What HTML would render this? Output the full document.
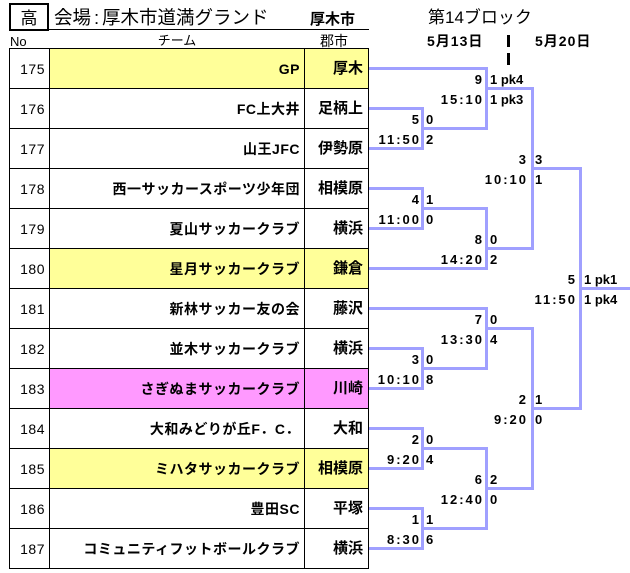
<!DOCTYPE html>
<html><head><meta charset="utf-8">
<style>
*{box-sizing:border-box;}
body{margin:0;width:630px;height:573px;position:relative;overflow:hidden;background:#fff;font-family:"Liberation Sans","Noto Sans CJK JP",sans-serif;color:#000;}
.a{position:absolute;white-space:nowrap;}
.bg{position:absolute;}
.gh{position:absolute;left:9px;width:360px;height:1px;background:#000;}
.gv{position:absolute;top:48px;width:1px;height:521px;background:#000;}
.h{position:absolute;background:#a0a0ff;height:3px;}
.v{position:absolute;background:#a0a0ff;width:3px;}
.no{position:absolute;right:585px;font-size:14px;line-height:40px;letter-spacing:0.5px;white-space:nowrap;}
.tm{position:absolute;right:330px;font-size:14px;font-weight:bold;line-height:40px;letter-spacing:0.5px;white-space:nowrap;}
.ct{position:absolute;right:267px;font-size:15px;font-weight:bold;line-height:40px;white-space:nowrap;}
.L{position:absolute;font-weight:bold;font-size:13px;line-height:16px;white-space:nowrap;text-align:right;}
.R{position:absolute;font-weight:bold;font-size:13px;line-height:16px;white-space:nowrap;}
.t{letter-spacing:2px;}
</style></head><body>

<!-- header -->
<div class="a" style="left:9px;top:3px;width:40px;height:28px;border:2px solid #000;"></div>
<div class="a" style="left:9px;top:9px;width:40px;text-align:center;font-size:17px;line-height:20px;">高</div>
<div class="a" style="left:49px;top:29px;width:320px;height:1px;background:#000;"></div>
<div class="a" style="left:54px;top:6px;font-size:18.5px;line-height:24px;">会場<span style="display:inline-block;width:11px;text-align:center;">:</span>厚木市道満グランド</div>
<div class="a" style="left:310px;top:10px;font-size:15px;font-weight:bold;line-height:20px;">厚木市</div>
<div class="a" style="left:10px;top:34px;font-size:13px;line-height:16px;">No</div>
<div class="a" style="left:127px;top:33px;width:100px;text-align:center;font-size:13px;line-height:16px;">チーム</div>
<div class="a" style="left:302px;top:33px;width:64px;text-align:center;font-size:14px;line-height:16px;">郡市</div>
<div class="a" style="left:428px;top:8px;font-size:17px;line-height:20px;">第14ブロック</div>
<div class="a" style="left:427px;top:33px;font-size:14px;font-weight:bold;letter-spacing:1px;line-height:16px;">5月13日</div>
<div class="a" style="left:535px;top:33px;font-size:14px;font-weight:bold;letter-spacing:1px;line-height:16px;">5月20日</div>
<div class="a" style="left:507px;top:35px;width:3px;height:12px;background:#000;"></div>
<div class="a" style="left:507px;top:53px;width:3px;height:12px;background:#000;"></div>

<!-- row backgrounds -->
<div class="bg" style="left:50px;top:49px;width:318px;height:39px;background:#ffff99;"></div>
<div class="bg" style="left:50px;top:249px;width:318px;height:39px;background:#ffff99;"></div>
<div class="bg" style="left:50px;top:369px;width:318px;height:39px;background:#ff99ff;"></div>
<div class="bg" style="left:50px;top:449px;width:318px;height:39px;background:#ffff99;"></div>

<!-- grid -->
<div class="gh" style="top:48px"></div>
<div class="gh" style="top:88px"></div>
<div class="gh" style="top:128px"></div>
<div class="gh" style="top:168px"></div>
<div class="gh" style="top:208px"></div>
<div class="gh" style="top:248px"></div>
<div class="gh" style="top:288px"></div>
<div class="gh" style="top:328px"></div>
<div class="gh" style="top:368px"></div>
<div class="gh" style="top:408px"></div>
<div class="gh" style="top:448px"></div>
<div class="gh" style="top:488px"></div>
<div class="gh" style="top:528px"></div>
<div class="gh" style="top:568px"></div>
<div class="gv" style="left:9px"></div>
<div class="gv" style="left:49px"></div>
<div class="gv" style="left:304px"></div>
<div class="gv" style="left:368px"></div>

<!-- rows -->
<div class="no" style="top:49px">175</div><div class="tm" style="top:49px">GP</div><div class="ct" style="top:49px">厚木</div>
<div class="no" style="top:89px">176</div><div class="tm" style="top:89px">FC上大井</div><div class="ct" style="top:89px">足柄上</div>
<div class="no" style="top:129px">177</div><div class="tm" style="top:129px">山王JFC</div><div class="ct" style="top:129px">伊勢原</div>
<div class="no" style="top:169px">178</div><div class="tm" style="top:169px">西一サッカースポーツ少年団</div><div class="ct" style="top:169px">相模原</div>
<div class="no" style="top:209px">179</div><div class="tm" style="top:209px">夏山サッカークラブ</div><div class="ct" style="top:209px">横浜</div>
<div class="no" style="top:249px">180</div><div class="tm" style="top:249px">星月サッカークラブ</div><div class="ct" style="top:249px">鎌倉</div>
<div class="no" style="top:289px">181</div><div class="tm" style="top:289px">新林サッカー友の会</div><div class="ct" style="top:289px">藤沢</div>
<div class="no" style="top:329px">182</div><div class="tm" style="top:329px">並木サッカークラブ</div><div class="ct" style="top:329px">横浜</div>
<div class="no" style="top:369px">183</div><div class="tm" style="top:369px">さぎぬまサッカークラブ</div><div class="ct" style="top:369px">川崎</div>
<div class="no" style="top:409px">184</div><div class="tm" style="top:409px">大和みどりが丘F．C．</div><div class="ct" style="top:409px">大和</div>
<div class="no" style="top:449px">185</div><div class="tm" style="top:449px">ミハタサッカークラブ</div><div class="ct" style="top:449px">相模原</div>
<div class="no" style="top:489px">186</div><div class="tm" style="top:489px">豊田SC</div><div class="ct" style="top:489px">平塚</div>
<div class="no" style="top:529px">187</div><div class="tm" style="top:529px">コミュニティフットボールクラブ</div><div class="ct" style="top:529px">横浜</div>

<!-- bracket horizontals -->
<div class="h" style="left:369px;width:55px;top:107px"></div>
<div class="h" style="left:369px;width:55px;top:147px"></div>
<div class="h" style="left:369px;width:55px;top:187px"></div>
<div class="h" style="left:369px;width:55px;top:227px"></div>
<div class="h" style="left:369px;width:55px;top:347px"></div>
<div class="h" style="left:369px;width:55px;top:387px"></div>
<div class="h" style="left:369px;width:55px;top:427px"></div>
<div class="h" style="left:369px;width:55px;top:467px"></div>
<div class="h" style="left:369px;width:55px;top:507px"></div>
<div class="h" style="left:369px;width:55px;top:547px"></div>
<div class="h" style="left:369px;width:119px;top:67px"></div>
<div class="h" style="left:369px;width:119px;top:267px"></div>
<div class="h" style="left:369px;width:119px;top:307px"></div>
<div class="h" style="left:424px;width:64px;top:127px"></div>
<div class="h" style="left:424px;width:64px;top:207px"></div>
<div class="h" style="left:424px;width:64px;top:367px"></div>
<div class="h" style="left:424px;width:64px;top:447px"></div>
<div class="h" style="left:424px;width:64px;top:527px"></div>
<div class="h" style="left:488px;width:46px;top:87px"></div>
<div class="h" style="left:488px;width:46px;top:247px"></div>
<div class="h" style="left:488px;width:46px;top:327px"></div>
<div class="h" style="left:488px;width:46px;top:487px"></div>
<div class="h" style="left:534px;width:48px;top:167px"></div>
<div class="h" style="left:534px;width:48px;top:407px"></div>
<div class="h" style="left:582px;width:48px;top:287px"></div>

<!-- bracket verticals -->
<div class="v" style="left:421px;top:107px;height:43px"></div>
<div class="v" style="left:421px;top:187px;height:43px"></div>
<div class="v" style="left:421px;top:347px;height:43px"></div>
<div class="v" style="left:421px;top:427px;height:43px"></div>
<div class="v" style="left:421px;top:507px;height:43px"></div>
<div class="v" style="left:485px;top:67px;height:63px"></div>
<div class="v" style="left:485px;top:207px;height:63px"></div>
<div class="v" style="left:485px;top:307px;height:63px"></div>
<div class="v" style="left:485px;top:447px;height:83px"></div>
<div class="v" style="left:531px;top:87px;height:163px"></div>
<div class="v" style="left:531px;top:327px;height:163px"></div>
<div class="v" style="left:579px;top:167px;height:243px"></div>

<!-- labels V=421 -->
<div class="L" style="right:211px;top:112px">5</div><div class="R" style="left:426px;top:112px">0</div>
<div class="L t" style="right:209px;top:132px">11:50</div><div class="R" style="left:426px;top:132px">2</div>
<div class="L" style="right:211px;top:192px">4</div><div class="R" style="left:426px;top:192px">1</div>
<div class="L t" style="right:209px;top:212px">11:00</div><div class="R" style="left:426px;top:212px">0</div>
<div class="L" style="right:211px;top:352px">3</div><div class="R" style="left:426px;top:352px">0</div>
<div class="L t" style="right:209px;top:372px">10:10</div><div class="R" style="left:426px;top:372px">8</div>
<div class="L" style="right:211px;top:432px">2</div><div class="R" style="left:426px;top:432px">0</div>
<div class="L t" style="right:209px;top:452px">9:20</div><div class="R" style="left:426px;top:452px">4</div>
<div class="L" style="right:211px;top:512px">1</div><div class="R" style="left:426px;top:512px">1</div>
<div class="L t" style="right:209px;top:532px">8:30</div><div class="R" style="left:426px;top:532px">6</div>

<!-- labels V=485 -->
<div class="L" style="right:148px;top:72px">9</div><div class="R" style="left:490px;top:72px">1 pk4</div>
<div class="L t" style="right:146px;top:92px">15:10</div><div class="R" style="left:490px;top:92px">1 pk3</div>
<div class="L" style="right:148px;top:232px">8</div><div class="R" style="left:490px;top:232px">0</div>
<div class="L t" style="right:146px;top:252px">14:20</div><div class="R" style="left:490px;top:252px">2</div>
<div class="L" style="right:148px;top:312px">7</div><div class="R" style="left:490px;top:312px">0</div>
<div class="L t" style="right:146px;top:332px">13:30</div><div class="R" style="left:490px;top:332px">4</div>
<div class="L" style="right:148px;top:472px">6</div><div class="R" style="left:490px;top:472px">2</div>
<div class="L t" style="right:146px;top:492px">12:40</div><div class="R" style="left:490px;top:492px">0</div>

<!-- labels V=531 -->
<div class="L" style="right:104px;top:152px">3</div><div class="R" style="left:535px;top:152px">3</div>
<div class="L t" style="right:102px;top:172px">10:10</div><div class="R" style="left:535px;top:172px">1</div>
<div class="L" style="right:104px;top:392px">2</div><div class="R" style="left:535px;top:392px">1</div>
<div class="L t" style="right:102px;top:412px">9:20</div><div class="R" style="left:535px;top:412px">0</div>

<!-- labels V=579 -->
<div class="L" style="right:55px;top:272px">5</div><div class="R" style="left:584px;top:272px">1 pk1</div>
<div class="L t" style="right:53px;top:292px">11:50</div><div class="R" style="left:584px;top:292px">1 pk4</div>

</body></html>
